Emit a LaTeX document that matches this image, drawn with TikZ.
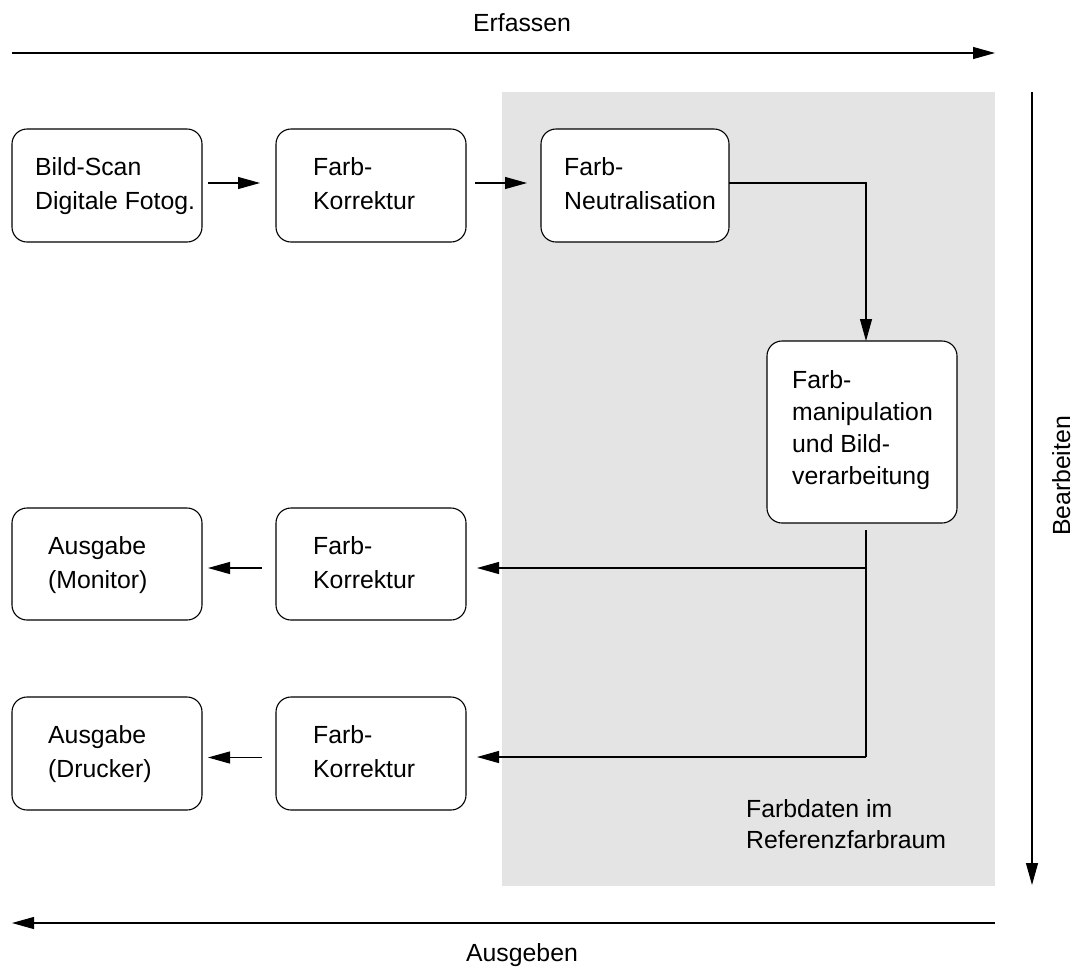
\documentclass[tikz,border=0pt]{standalone}
\usepackage{fontspec}
\setmainfont{Liberation Sans}
\usetikzlibrary{arrows.meta}
\definecolor{regiongray}{RGB}{228,228,228}
\begin{document}
\begin{tikzpicture}[x=1pt,y=-1pt,
  box/.style={draw, line width=1.1pt, rounded corners=15pt, minimum width=190pt,
    minimum height=113pt, anchor=north west, inner sep=0pt, outer sep=0pt},
  txt/.style={anchor=north west, inner sep=0pt, align=left,
    font=\fontsize{24.8}{34}\selectfont},
  txtb/.style={txt, font=\fontsize{24.8}{32}\selectfont},
  lbl/.style={inner sep=0pt, font=\fontsize{24.8}{30}\selectfont},
  line/.style={line width=1.1pt},
  conn/.style={line width=1.1pt, -{Triangle[length=22pt,width=12pt]}}]
\useasboundingbox (0,0) rectangle (1076,967);
% shaded region
\node[fill=regiongray, anchor=north west, minimum width=493pt, minimum height=794pt,
  inner sep=0pt, outer sep=0pt] (region) at (502,92) {};
% boxes
\node[box] (b1) at (12,129) {};
\node[box] (b2) at (276,129) {};
\node[box, minimum width=188pt, fill=white] (b3) at (541,129) {};
\node[box, minimum height=182pt, fill=white] (b4) at (767,341) {};
\node[box, minimum height=112pt] (b5) at (12,508) {};
\node[box, minimum height=112pt] (b6) at (276,508) {};
\node[box] (b7) at (12,697) {};
\node[box] (b8) at (276,697) {};
% texts
\node[txt] (t1) at (35,157) {Bild-Scan\\Digitale Fotog.};
\node[txt] (t2) at (313,157) {Farb-\\Korrektur};
\node[txt] (t3) at (564,157) {Farb-\\Neutralisation};
\node[txtb] (t4) at (792,370) {Farb-\\manipulation\\und Bild-\\verarbeitung};
\node[txt] (t5) at (48,536) {Ausgabe\\(Monitor)};
\node[txt] (t6) at (313,536) {Farb-\\Korrektur};
\node[txt] (t7) at (48,725) {Ausgabe\\(Drucker)};
\node[txt] (t8) at (313,725) {Farb-\\Korrektur};
\node[txt, font=\fontsize{24.8}{31}\selectfont] (t9) at (746,799) {Farbdaten im\\Referenzfarbraum};
% axis labels
\node[lbl, anchor=base] (erfassen) at (522,31) {Erfassen};
\node[lbl, anchor=base] (ausgeben) at (522,961) {Ausgeben};
\node[lbl, anchor=base, rotate=90] (bearbeiten) at (1070,476) {Bearbeiten};
% axis arrows
\coordinate (e0) at (12,53);
\coordinate (e1) at (995,53);
\coordinate (a0) at (995,923);
\coordinate (a1) at (12,923);
\coordinate (r0) at (1032,92);
\coordinate (r1) at (1032,885);
\draw[conn] (e0) -- (e1);
\draw[conn] (a0) -- (a1);
\draw[conn] (r0) -- (r1);
% flow connectors
\draw[conn, shorten <=6pt, shorten >=16pt] ([yshift=2.5pt]b1.east) -- ([yshift=2.5pt]b2.west);
\draw[conn, shorten <=9pt, shorten >=14pt] ([yshift=2.5pt]b2.east) -- ([yshift=2.5pt]b3.west);
\draw[conn] ([yshift=2.5pt]b3.east) -| ([xshift=4pt]b4.north);
\coordinate (split) at (866,530);
\coordinate (j1) at (866,568);
\coordinate (j2) at (866,757);
\draw[line] (split) -- (j2);
\draw[conn, shorten >=11pt] (j1) -- (b6.east |- j1);
\draw[conn, shorten >=11pt] (j2) -- (b8.east |- j2);
\draw[conn, shorten <=14pt, shorten >=6pt] ([yshift=-4pt]b6.west) -- ([yshift=-4pt]b5.east);
\draw[conn, shorten <=14pt, shorten >=6pt] ([yshift=-4pt]b8.west) -- ([yshift=-4pt]b7.east);
\end{tikzpicture}
\end{document}
